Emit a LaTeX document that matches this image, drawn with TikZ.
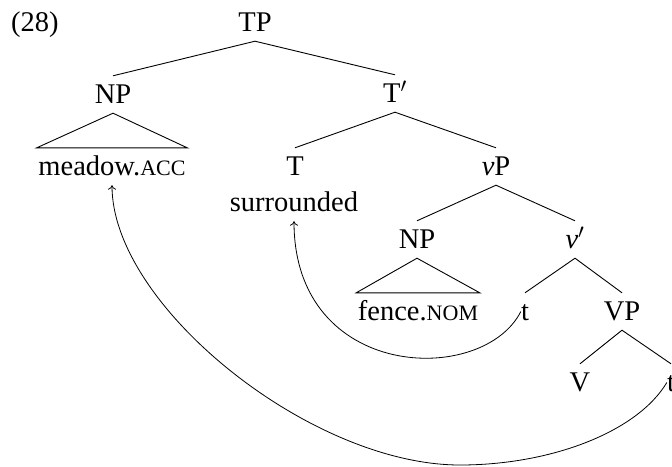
\documentclass[tikz,border=0pt]{standalone}
\usepackage{fontspec}
\setmainfont{Liberation Serif}
\usetikzlibrary{arrows.meta}
\newcommand{\smc}[1]{{\fontsize{22}{26}\selectfont #1}}
\begin{document}
\begin{tikzpicture}[x=1pt,y=-1pt,
  lbl/.style={font=\fontsize{28.5}{34}\selectfont, inner xsep=0pt, inner ysep=6pt,
              text height=21pt, text depth=4pt, anchor=base},
  wide/.style={lbl, inner xsep=1.5pt},
  edge/.style={line width=0.9pt},
  mv/.style={line width=0.8pt, -{To[length=4.5pt,width=8pt]}}]
\useasboundingbox (0,0) rectangle (672,466);
\node[lbl, anchor=base west] (ex) at (11,31) {(28)};
\node[lbl] (TP) at (255,31) {TP};
\node[lbl] (NP1) at (113,103) {NP};
\node[lbl] (Tbar) at (395,102) {T$'$};
\node[wide] (meadow) at (112,175) {meadow.\smc{ACC}};
\node[lbl] (T) at (295,175) {T};
\node[lbl] (vP) at (496,175) {\textit{v}P};
\node[lbl] (surr) at (294,211) {surrounded};
\node[lbl] (NP2) at (417,248) {NP};
\node[lbl] (vbar) at (575,248) {\textit{v}$'$};
\node[wide] (fence) at (418,320) {fence.\smc{NOM}};
\node[lbl] (t1) at (525,320) {t};
\node[lbl] (VP) at (622,320) {VP};
\node[lbl] (V) at (580,391) {V};
\node[lbl] (t2) at (671,391) {t};
\coordinate (low) at (460,465);

\draw[edge] (NP1.north) -- (TP.south) -- (Tbar.north);
\draw[edge] (meadow.north west) -- (NP1.south) -- (meadow.north east) -- cycle;
\draw[edge] (T.north) -- (Tbar.south) -- (vP.north);
\draw[edge] (NP2.north) -- (vP.south) -- (vbar.north);
\draw[edge] (fence.north west) -- (NP2.south) -- (fence.north east) -- cycle;
\draw[edge] (t1.north) -- (vbar.south) -- (VP.north);
\draw[edge] (V.north) -- (VP.south) -- (t2.north);

\draw[mv] (t1.west) .. controls +(-38,75) and +(0,160) .. (surr.south);
\draw[mv] (t2.west) .. controls +(-30,50) and +(90,0) .. (low)
  .. controls +(-150,0) and +(0,120) .. (meadow.south);
\end{tikzpicture}
\end{document}
